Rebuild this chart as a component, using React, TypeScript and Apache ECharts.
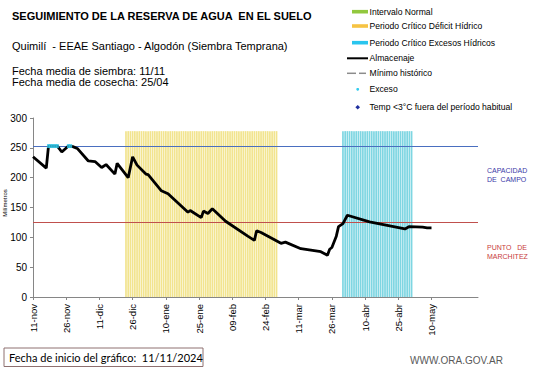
import React, { useEffect, useRef } from "react";
import * as echarts from "echarts";

// ---- Data ----
const tickDays = [0, 15, 30, 45, 60, 75, 90, 105, 120, 135, 150, 165, 180];
const tickLabels = ["11-nov", "26-nov", "11-dic", "26-dic", "10-ene", "25-ene", "09-feb", "24-feb", "11-mar", "26-mar", "10-abr", "25-abr", "10-may"];

// Almacenaje: [day since 11-nov, mm]
const almacenaje: [number, number][] = [
  [0, 235], [6, 216], [7, 253], [11, 253], [13, 243], [16, 253], [18, 252], [20, 249],
  [25, 228], [28, 227], [31, 217], [33, 222], [37, 206], [38, 224], [43, 200], [45, 235],
  [47, 221], [51, 206], [52, 205], [58, 178], [61, 173], [70, 142], [71, 145], [76, 133],
  [77, 144], [79, 140], [81, 148], [87, 127], [97, 102], [100, 95], [101, 111], [103, 108],
  [112, 90], [114, 92], [121, 81], [130, 76], [133, 70], [134, 80], [135, 83], [137, 102],
  [138, 118], [140, 123], [142, 137], [152, 126], [168, 114], [170, 118], [176, 117],
  [178, 116], [180, 116],
];
const excesoDays = [7, 8, 9, 10, 11, 16, 17];
const excesoValue = 253;
const deficitRange = [42, 110];
const excesoRange = [140, 171];
const stripeTop = 278;
const capacidadCampo = 252;
const puntoMarchitez = 125;

function daysIn(range: number[]): [number, number][] {
  const out: [number, number][] = [];
  for (let d = range[0]; d <= range[1]; d++) out.push([d, stripeTop]);
  return out;
}

const FONT = "Liberation Sans, Arial, sans-serif";

export default function App() {
  const ref = useRef<HTMLDivElement>(null);
  useEffect(() => {
    if (!ref.current) return;
    const chart = echarts.init(ref.current, undefined, { renderer: "svg" });
    const legendY = [11.7, 26, 42.7, 58.3, 73.3, 89.3, 107.3];
    const legendTexts = [
      "Intervalo Normal",
      "Periodo Crítico Déficit Hídrico",
      "Periodo Crítico Excesos Hídricos",
      "Almacenaje",
      "Mínimo histórico",
      "Exceso",
      "Temp <3°C fuera del período habitual",
    ];
    const graphic: any[] = [
      { type: "text", left: 12, top: 10, style: { text: "SEGUIMIENTO DE LA RESERVA DE AGUA  EN EL SUELO", font: `bold 11px ${FONT}`, fill: "#000" } },
      { type: "text", left: 12, top: 40, style: { text: "Quimilí  - EEAE Santiago - Algodón (Siembra Temprana)", font: `11px ${FONT}`, fill: "#000" } },
      { type: "text", left: 12, top: 65, style: { text: "Fecha media de siembra: 11/11", font: `11px ${FONT}`, fill: "#000" } },
      { type: "text", left: 12, top: 76.5, style: { text: "Fecha media de cosecha: 25/04", font: `11px ${FONT}`, fill: "#000" } },
      { type: "rect", shape: { x: 352, y: legendY[0] - 1.8, width: 16, height: 3.6 }, style: { fill: "#92C83E" } },
      { type: "rect", shape: { x: 352, y: legendY[1] - 1.8, width: 16, height: 3.6 }, style: { fill: "#F6C343" } },
      { type: "rect", shape: { x: 352, y: legendY[2] - 1.8, width: 16, height: 3.6 }, style: { fill: "#29C5EE" } },
      { type: "line", shape: { x1: 347, y1: legendY[3], x2: 368, y2: legendY[3] }, style: { stroke: "#000", lineWidth: 2 } },
      { type: "line", shape: { x1: 347, y1: legendY[4], x2: 356, y2: legendY[4] }, style: { stroke: "#8C8C8C", lineWidth: 1.5 } },
      { type: "line", shape: { x1: 359, y1: legendY[4], x2: 366, y2: legendY[4] }, style: { stroke: "#8C8C8C", lineWidth: 1.5 } },
      { type: "circle", shape: { cx: 357.7, cy: legendY[5], r: 1.4 }, style: { fill: "#33CCEE" } },
      { type: "polygon", shape: { points: [[357.7, legendY[6] - 2.3], [360, legendY[6]], [357.7, legendY[6] + 2.3], [355.4, legendY[6]]] }, style: { fill: "#1F2F9F" } },
      { type: "text", left: 487, top: 166, style: { text: "CAPACIDAD\nDE  CAMPO", font: `7px ${FONT}`, fill: "#3A3AA8", lineHeight: 9 } },
      { type: "text", left: 487, top: 242.5, style: { text: "PUNTO   DE\nMARCHITEZ", font: `7px ${FONT}`, fill: "#C83C3C", lineHeight: 9 } },
      { type: "text", x: 5, y: 203, rotation: Math.PI / 2, style: { text: "Milímetros", font: `6px ${FONT}`, fill: "#000", align: "center", verticalAlign: "middle" } },
      { type: "rect", shape: { x: 4, y: 348, width: 199, height: 18.5 }, style: { fill: "#fff", stroke: "#8E7070", lineWidth: 1 } },
      { type: "text", left: 9, top: 351.5, style: { text: "Fecha de inicio del gráfico:  11/11/2024", font: `11px Lato, sans-serif`, fill: "#000" } },
      { type: "text", left: 410, top: 355, style: { text: "WWW.ORA.GOV.AR", font: `10px ${FONT}`, fill: "#595959" } },
    ];
    legendTexts.forEach((t, i) => {
      graphic.push({ type: "text", x: 369.5, y: legendY[i], style: { text: t, font: `8.6px ${FONT}`, fill: "#000", verticalAlign: "middle" } });
    });

    chart.setOption({
      animation: false,
      grid: { left: 33, right: 63, top: 118, bottom: 71 },
      xAxis: {
        type: "value",
        min: 0,
        max: 201,
        axisLine: { show: true, lineStyle: { color: "#868686", width: 1 } },
        axisTick: { show: true, length: 3, customValues: tickDays, lineStyle: { color: "#868686" } },
        axisLabel: {
          customValues: tickDays,
          rotate: 90,
          fontSize: 9.5,
          fontFamily: FONT,
          color: "#000",
          margin: 7,
          formatter: (v: number) => {
            const i = tickDays.indexOf(Math.round(v));
            return i >= 0 ? tickLabels[i] : "";
          },
        },
        splitLine: { show: false },
      },
      yAxis: {
        type: "value",
        min: 0,
        max: 300,
        interval: 50,
        axisLine: { show: true, lineStyle: { color: "#868686", width: 1 } },
        axisTick: { show: true, length: 3, lineStyle: { color: "#868686" } },
        axisLabel: { fontSize: 10, fontFamily: FONT, color: "#000", margin: 6 },
        splitLine: { show: false },
      },
      graphic,
      series: [
        {
          name: "Periodo Crítico Déficit Hídrico",
          type: "bar",
          data: daysIn(deficitRange),
          barWidth: 1.7,
          barGap: "-100%",
          itemStyle: { color: "#F2E48E" },
          silent: true,
          z: 1,
        },
        {
          name: "Periodo Crítico Excesos Hídricos",
          type: "bar",
          data: daysIn(excesoRange),
          barWidth: 1.7,
          barGap: "-100%",
          itemStyle: { color: "#7ED6E2" },
          silent: true,
          z: 1,
        },
        {
          name: "Almacenaje",
          type: "line",
          data: almacenaje,
          showSymbol: false,
          lineStyle: { color: "#000", width: 2.8 },
          z: 5,
          markLine: {
            silent: true,
            symbol: "none",
            label: { show: false },
            data: [
              { yAxis: capacidadCampo, lineStyle: { color: "#4A6FC0", width: 1, type: "solid" } },
              { yAxis: puntoMarchitez, lineStyle: { color: "#C0504D", width: 1, type: "solid" } },
            ],
          },
        },
        {
          name: "Exceso",
          type: "scatter",
          data: excesoDays.map((d) => [d, excesoValue]),
          symbol: "rect",
          symbolSize: [3, 4],
          itemStyle: { color: "#33CCEE" },
          z: 6,
        },
      ],
    });
    return () => chart.dispose();
  }, []);
  return <div ref={ref} style={{ position: "absolute", left: 0, top: 0, width: 541, height: 368, background: "#fff" }} />;
}
